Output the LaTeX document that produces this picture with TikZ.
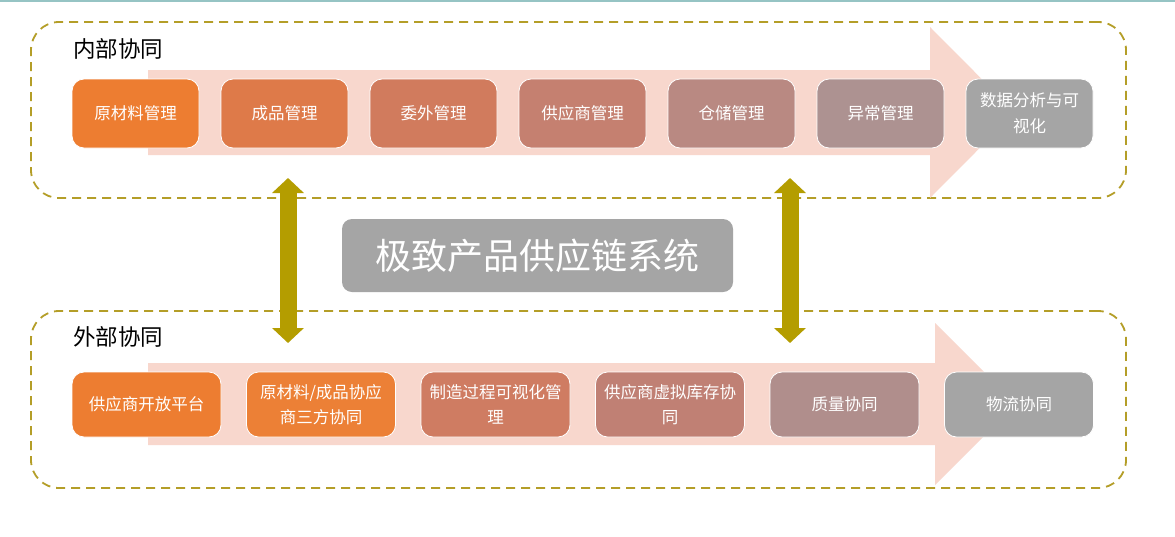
\documentclass[tikz,border=0pt]{standalone}
\usepackage{fontspec}
\usepackage{tikz}
\usetikzlibrary{arrows.meta,positioning}
\newfontfamily\cjk{Noto Sans CJK SC}
\definecolor{tealline}{RGB}{150,196,196}
\definecolor{olivedash}{RGB}{180,158,40}
\definecolor{olivearr}{RGB}{180,157,0}
\definecolor{flowpink}{RGB}{248,215,205}
\definecolor{grayend}{RGB}{165,165,165}
\definecolor{inA}{RGB}{237,125,49}
\definecolor{inB}{RGB}{222,122,73}
\definecolor{inC}{RGB}{209,123,93}
\definecolor{inD}{RGB}{197,128,112}
\definecolor{inE}{RGB}{185,137,130}
\definecolor{inF}{RGB}{173,146,145}
\definecolor{exA}{RGB}{237,125,49}
\definecolor{exB}{RGB}{236,128,54}
\definecolor{exC}{RGB}{207,124,98}
\definecolor{exD}{RGB}{192,128,116}
\definecolor{exE}{RGB}{176,142,140}

\begin{document}
\begin{tikzpicture}[x=1pt,y=-1pt,
    node distance=22pt,
    group/.style={draw=olivedash,dash pattern=on 9pt off 6pt,line width=1.8pt,
      rounded corners=28pt,minimum width=1095pt,inner sep=0pt},
    grouplabel/.style={anchor=west,inner sep=0pt,font=\cjk\fontsize{22.5}{26}\selectfont},
    inbox/.style={draw=white,line width=0.8pt,rounded corners=12pt,minimum width=127pt,
      minimum height=69pt,inner sep=2pt,outer sep=0pt,align=center,text=white,
      font=\cjk\fontsize{16.5}{26}\selectfont},
    exbox/.style={inbox,minimum width=149pt,minimum height=65pt,
      font=\cjk\fontsize{16.5}{25}\selectfont},
    flow/.style={fill=flowpink},
    link/.style={{Triangle[length=15pt,width=31pt]}-{Triangle[length=15pt,width=31pt]},
      draw=olivearr,line width=17pt}
  ]
    \fill[white] (0,0) rectangle (1175,536);
    \useasboundingbox (0,0) rectangle (1175,536);
    \draw[tealline,line width=2.2pt] (0,1) -- (1175,1);

    % two collaboration groups
    \node[group,minimum height=176pt] (inner) at (578.5,110) {};
    \node[group,minimum height=177pt] (outer) at (578.5,399.5) {};
    \node[grouplabel] (innerlabel) at (73,49) {内部协同};
    \node[grouplabel] (outerlabel) at (73,337) {外部协同};

    % process arrows behind the boxes
    \fill[flow] (148,70) -- (930,70) -- (930,27) -- (1015,112.5) -- (930,198)
      -- (930,155) -- (148,155) -- cycle;
    \fill[flow] (148,363) -- (935,363) -- (935,323) -- (1016,404) -- (935,485)
      -- (935,445) -- (148,445) -- cycle;

    % internal modules
    \node[inbox,fill=inA] (raw) at (135.5,113.5) {原材料管理};
    \node[inbox,fill=inB,right=of raw] (product) {成品管理};
    \node[inbox,fill=inC,right=of product] (outsource) {委外管理};
    \node[inbox,fill=inD,right=of outsource] (supplier) {供应商管理};
    \node[inbox,fill=inE,right=of supplier] (storage) {仓储管理};
    \node[inbox,fill=inF,right=of storage] (abnormal) {异常管理};
    \node[inbox,fill=grayend,right=of abnormal] (analysis) {数据分析与可\\视化};

    % external modules
    \node[exbox,fill=exA] (open) at (146.5,404.5) {供应商开放平台};
    \node[exbox,fill=exB,right=25.5pt of open] (thirdparty) {原材料/成品协应\\商三方协同};
    \node[exbox,fill=exC,right=25.5pt of thirdparty] (making) {制造过程可视化管\\理};
    \node[exbox,fill=exD,right=25.5pt of making] (stock) {供应商虚拟库存协\\同};
    \node[exbox,fill=exE,right=25.5pt of stock] (quality) {质量协同};
    \node[exbox,fill=grayend,right=25.5pt of quality] (logistics) {物流协同};

    % system title
    \node[fill=grayend,rounded corners=10pt,minimum width=391pt,minimum height=73pt,
      text=white,font=\cjk\fontsize{36}{40}\selectfont] (system) at (537.5,255.5)
      {极致产品供应链系统};

    % links between the groups
    \coordinate (leftup) at (288,178);
    \coordinate (leftdown) at (288,343);
    \coordinate (rightup) at (790,178);
    \coordinate (rightdown) at (790,343);
    \draw[link] (leftup) -- (leftdown);
    \draw[link] (rightup) -- (rightdown);
\end{tikzpicture}
\end{document}
